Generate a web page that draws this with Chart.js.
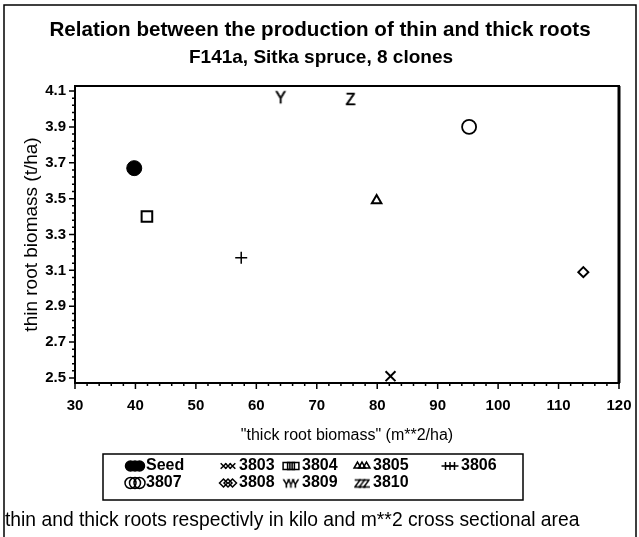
<!DOCTYPE html>
<html>
<head>
<meta charset="utf-8">
<title>Thin and thick roots</title>
<script src="https://cdn.jsdelivr.net/npm/chart.js@4.4.0/dist/chart.umd.min.js"></script>
<style>
  html, body { margin:0; padding:0; background:#fff; }
  #wrap { width:639px; height:537px; }
</style>
</head>
<body>
<div id="wrap"><canvas id="rootChart" width="639" height="537"></canvas></div>
<script>
// clone means: thick root (m**2/ha) against thin root (t/ha)
const clones    = ['Seed', '3803', '3804', '3805', '3806', '3807', '3808', '3809', '3810'];
const thickRoot = [39.8, 82.2, 41.9, 79.9, 57.5, 95.2, 114.1, 64.0, 75.6];
const thinRoot  = [3.67, 2.51, 3.40, 3.49, 3.17, 3.90, 3.09, 4.06, 4.05];

const xTickLabels = ['30', '40', '50', '60', '70', '80', '90', '100', '110', '120'];
const yTickLabels = ['2.5', '2.7', '2.9', '3.1', '3.3', '3.5', '3.7', '3.9', '4.1'];

const titleLines = ['Relation between the production of thin and thick roots', 'F141a, Sitka spruce, 8 clones'];
const footnote = 'thin and thick roots respectivly in kilo and m**2 cross sectional area';

const FONT = '"Liberation Sans", Arial, Helvetica, sans-serif';

// letters used as plot symbols (SAS style Y / Z)
function letterMarker(ch, size) {
  const c = document.createElement('canvas');
  c.width = size + 4; c.height = size + 4;
  const g = c.getContext('2d');
  g.fillStyle = '#000';
  g.strokeStyle = '#000';
  g.lineWidth = 0.6;
  g.font = size + 'px ' + FONT;
  g.textAlign = 'center';
  g.textBaseline = 'middle';
  g.fillText(ch, c.width / 2, c.height / 2 + 1);
  g.strokeText(ch, c.width / 2, c.height / 2 + 1);
  return c;
}

// symbol per clone: style, radius, line width, filled
const markers = [
  { style: 'circle',   r: 7.5, w: 1,   fill: true  },
  { style: 'crossRot', r: 7,   w: 2,   fill: false },
  { style: 'rect',     r: 7.5, w: 2,   fill: false },
  { style: 'triangle', r: 5.5, w: 2,   fill: false },
  { style: 'cross',    r: 6,   w: 1.5, fill: false },
  { style: 'circle',   r: 7,   w: 1.8, fill: false },
  { style: 'rectRot',  r: 5,   w: 2,   fill: false },
  { style: letterMarker('Y', 16), r: 8, w: 0, fill: false },
  { style: letterMarker('Z', 16), r: 8, w: 0, fill: false }
];
const legendMarks = [
  { style: 'circle',   r: 5,   w: 1   },
  { style: 'crossRot', r: 4,   w: 1.5 },
  { style: 'rect',     r: 4.8, w: 1.5 },
  { style: 'triangle', r: 4,   w: 1.5 },
  { style: 'cross',    r: 4,   w: 1.5 },
  { style: 'circle',   r: 5.5, w: 1.3 },
  { style: 'rectRot',  r: 4,   w: 1.5 },
  { style: letterMarker('Y', 11), r: 5, w: 0 },
  { style: letterMarker('Z', 11), r: 5, w: 0 }
];

const datasets = clones.map((name, i) => ({
  label: name,
  data: [{ x: thickRoot[i], y: thinRoot[i] }],
  pointStyle: markers[i].style,
  pointRadius: markers[i].r,
  pointBorderWidth: markers[i].w,
  pointBorderColor: '#000',
  pointBackgroundColor: markers[i].fill ? '#000' : 'rgba(0,0,0,0)'
}));

// y ticks: majors from the label list, four minors between each pair
function yTickValues() {
  const out = [];
  for (let i = 0; i < yTickLabels.length; i++) {
    const v = parseFloat(yTickLabels[i]);
    out.push({ value: v, major: true });
    if (i < yTickLabels.length - 1) {
      const step = (parseFloat(yTickLabels[i + 1]) - v) / 5;
      for (let k = 1; k < 5; k++) out.push({ value: v + k * step, major: false });
    }
  }
  return out;
}

const framePlugin = {
  id: 'frame',
  beforeDraw(chart) {
    const { ctx, width, height } = chart;
    ctx.save();
    ctx.fillStyle = '#fff';
    ctx.fillRect(0, 0, width, height);
    // outer border
    ctx.strokeStyle = '#000';
    ctx.lineWidth = 1.5;
    ctx.beginPath();
    ctx.moveTo(4, height);
    ctx.lineTo(4, 5);
    ctx.lineTo(636, 5);
    ctx.lineTo(636, height);
    ctx.stroke();
    // two-line title, centred on the page
    ctx.fillStyle = '#000';
    ctx.textAlign = 'center';
    ctx.textBaseline = 'middle';
    ctx.font = 'bold 20.6px ' + FONT;
    ctx.fillText(titleLines[0], 320, 30);
    ctx.font = 'bold 19px ' + FONT;
    ctx.fillText(titleLines[1], 321, 58);
    ctx.restore();
  },
  beforeDatasetsDraw(chart) {
    const { ctx, chartArea: a, scales } = chart;
    ctx.save();
    ctx.strokeStyle = '#000';
    ctx.lineWidth = 2;
    ctx.strokeRect(a.left, a.top, a.right - a.left, a.bottom - a.top);
    ctx.lineWidth = 3;
    ctx.beginPath();
    ctx.moveTo(a.right, a.top);
    ctx.lineTo(a.right, a.bottom);
    ctx.stroke();
    // tick marks, majors longer than minors
    ctx.lineWidth = 1.5;
    ctx.beginPath();
    scales.x.ticks.forEach(t => {
      const px = scales.x.getPixelForValue(t.value);
      const len = t.label ? 6 : 3;
      ctx.moveTo(px, a.bottom);
      ctx.lineTo(px, a.bottom + len);
    });
    scales.y.ticks.forEach(t => {
      const py = scales.y.getPixelForValue(t.value);
      const len = t.label ? 6 : 3;
      ctx.moveTo(a.left, py);
      ctx.lineTo(a.left - len, py);
    });
    ctx.stroke();
    ctx.restore();
  },
  afterDraw(chart) {
    const { ctx } = chart;
    const h = Chart.helpers;
    ctx.save();
    // legend box
    ctx.strokeStyle = '#000';
    ctx.lineWidth = 1.5;
    ctx.strokeRect(103, 454, 420, 46);
    const colX = [135, 228, 291, 362, 450];
    const rowY = [466, 483];
    ctx.font = 'bold 16px ' + FONT;
    ctx.textBaseline = 'middle';
    ctx.textAlign = 'left';
    clones.forEach((name, i) => {
      const cx = colX[i % 5], cy = rowY[Math.floor(i / 5)];
      const m = legendMarks[i];
      ctx.fillStyle = i === 0 ? '#000' : 'rgba(0,0,0,0)';
      ctx.strokeStyle = '#000';
      [-4.5, 0, 4.5].forEach(dx => {
        h.drawPoint(ctx, { pointStyle: m.style, radius: m.r, rotation: 0, borderWidth: m.w }, cx + dx, cy);
      });
      ctx.fillStyle = '#000';
      ctx.fillText(name, cx + 11, cy);
    });
    // footnote
    ctx.font = '19.3px ' + FONT;
    ctx.fillText(footnote, 5, 521);
    ctx.restore();
  }
};

new Chart(document.getElementById('rootChart'), {
  type: 'scatter',
  data: { datasets },
  plugins: [framePlugin],
  options: {
    responsive: false,
    devicePixelRatio: 1,
    animation: false,
    layout: { padding: { top: 86, left: 0, right: 20, bottom: 92 } },
    plugins: {
      legend: { display: false },
      tooltip: { enabled: false },
      title: { display: false }
    },
    scales: {
      x: {
        type: 'linear',
        min: 30,
        max: 120,
        // tickLength only spaces the labels; tick marks are drawn by the plugin
        grid: { display: false, drawTicks: true, tickLength: 14 },
        border: { display: false },
        afterFit: s => { s.height = 62; },
        ticks: {
          stepSize: 2,
          autoSkip: false,
          maxRotation: 0,
          padding: 0,
          color: '#000',
          font: { family: FONT, size: 15, weight: 'bold' },
          callback: v => xTickLabels.find(l => Math.abs(parseFloat(l) - v) < 1e-6) || ''
        },
        title: {
          display: true,
          text: '"thick root biomass" (m**2/ha)',
          color: '#000',
          font: { family: FONT, size: 16 },
          padding: { top: 0, bottom: 0 }
        }
      },
      y: {
        type: 'linear',
        min: 2.472,
        max: 4.128,
        grid: { display: false, drawTicks: true, tickLength: 9 },
        border: { display: false },
        afterBuildTicks: s => { s.ticks = yTickValues(); },
        afterFit: s => { s.width = 75; },
        ticks: {
          autoSkip: false,
          padding: 0,
          color: '#000',
          font: { family: FONT, size: 15, weight: 'bold' },
          callback: (v, i, ticks) => ticks[i].major ? (yTickLabels.find(l => Math.abs(parseFloat(l) - v) < 1e-6) || '') : ''
        },
        title: {
          display: true,
          text: 'thin root biomass (t/ha)',
          color: '#000',
          font: { family: FONT, size: 19 },
          padding: { top: 20, bottom: 0 }
        }
      }
    }
  }
});
</script>
</body>
</html>
